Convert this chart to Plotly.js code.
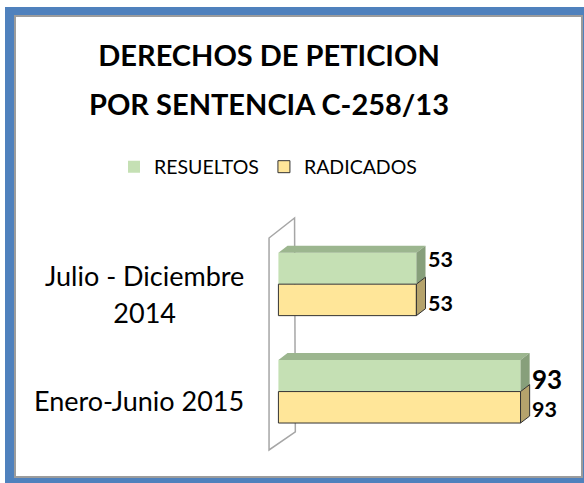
<!DOCTYPE html>
<html><head><meta charset="utf-8">
<script src="https://cdn.plot.ly/plotly-3.0.1.min.js"></script>
<style>
html,body{margin:0;padding:0;width:584px;height:483px;overflow:hidden;background:#fff;}
#frame{position:absolute;left:5px;top:7px;width:600px;height:500px;box-sizing:border-box;border-style:solid;border-color:#4f81bd;border-width:8px 9px 9px 9px;background:#4f81bd;}
#inner{position:absolute;left:0;top:0;width:569px;height:463px;box-sizing:border-box;border:2px solid #9c9c9c;background:#fff;}
#chart{position:absolute;left:0;top:0;width:584px;height:483px;}
</style></head><body>
<div id="frame"><div id="inner"></div></div>
<div id="chart"></div>
<script>
// ---- data ----
const categories = ['Julio - Diciembre<br>2014', 'Enero-Junio 2015'];
const seriesNames = ['RESUELTOS', 'RADICADOS'];
const resueltos = [53, 93];
const radicados = [53, 93];
const titleLines = ['DERECHOS DE PETICION', 'POR SENTENCIA C-258/13'];

// ---- style ----
const FONT = 'Lato, "Open Sans", sans-serif';
const greenFront = '#c5e0b4', greenTop = '#9cb68f', greenSide = '#879f7b';
const yellowFront = '#ffe699', yellowSide = '#b5a36c', edge = '#333333';
const bargap = 0.414;
const half = (1 - bargap) / 2;
const dx = 3.5, dy = 0.065;      // pseudo-3D depth in axis units
const idx = categories.map((_, i) => i);

function poly(fn, vals) {
  const xs = [], ys = [];
  vals.forEach((v, i) => {
    const pts = fn(v, idx[i]);
    pts.forEach(p => { xs.push(p[0]); ys.push(p[1]); });
    xs.push(pts[0][0]); ys.push(pts[0][1]);
    xs.push(null); ys.push(null);
  });
  return {xs, ys};
}
const gTop = poly((v, c) => [[0, c - half], [v, c - half], [v + dx, c - half - dy], [dx, c - half - dy]], resueltos);
const gSide = poly((v, c) => [[v, c - half], [v + dx, c - half - dy], [v + dx, c - dy], [v, c]], resueltos);
const ySide = poly((v, c) => [[v, c], [v + dx, c - dy], [v + dx, c + half - dy], [v, c + half]], radicados);

const data = [
  {type: 'bar', orientation: 'h', name: seriesNames[0], x: resueltos, y: idx,
   marker: {color: greenFront, line: {width: 0}}, hoverinfo: 'x'},
  {type: 'bar', orientation: 'h', name: seriesNames[1], x: radicados, y: idx,
   marker: {color: yellowFront, line: {color: edge, width: 1}}, hoverinfo: 'x'},
  {type: 'scatter', mode: 'lines', x: gTop.xs, y: gTop.ys, fill: 'toself', fillcolor: greenTop,
   line: {width: 0, color: greenTop}, showlegend: false, hoverinfo: 'skip'},
  {type: 'scatter', mode: 'lines', x: gSide.xs, y: gSide.ys, fill: 'toself', fillcolor: greenSide,
   line: {width: 0, color: greenSide}, showlegend: false, hoverinfo: 'skip'},
  {type: 'scatter', mode: 'lines', x: ySide.xs, y: ySide.ys, fill: 'toself', fillcolor: yellowSide,
   line: {width: 1, color: edge}, showlegend: false, hoverinfo: 'skip'}
];

// value labels
const labelSizes = [[21.5, 26], [21.5, 21.5]];
const labelYShift = [[9, -3.5], [-3, -2]];
const annotations = [];
[resueltos, radicados].forEach((vals, s) => {
  vals.forEach((v, i) => {
    annotations.push({x: v + dx, y: idx[i] + (s === 0 ? -half / 2 : half / 2), xref: 'x', yref: 'y',
      text: String(v), showarrow: false, xanchor: 'left', yanchor: 'middle', xshift: 0,
      yshift: labelYShift[s][i],
      font: {family: FONT, size: labelSizes[s][i], color: '#000', weight: 'bold'}});
  });
});
// category labels
const catShift = [-9.8, -9.4];
categories.forEach((c, i) => {
  annotations.push({x: -0.073, xref: 'paper', y: idx[i], yref: 'y', showarrow: false,
    xanchor: 'right', yanchor: 'middle', align: 'center', yshift: catShift[i],
    text: c.split('<br>').map(t => '<span style="font-size:27px">' + t + '</span>').join('<br>'),
    font: {family: FONT, size: 28.5, color: '#000'}});
});

const layout = {
  width: 584, height: 483,
  margin: {l: 268, r: 14, t: 209, b: 27, pad: 0},
  paper_bgcolor: 'rgba(0,0,0,0)', plot_bgcolor: 'rgba(0,0,0,0)',
  barmode: 'group', bargap: bargap, bargroupgap: 0,
  title: {text: titleLines.map(t => '<span style="font-size:29px">' + t + '</span>').join('<br>'),
    font: {family: FONT, size: 37.7, color: '#000', weight: 'bold'},
    x: 269 / 584, xanchor: 'center', xref: 'container',
    y: 1 - 66 / 483, yanchor: 'middle', yref: 'container'},
  showlegend: true,
  legend: {orientation: 'h', x: (114 - 268) / 302, xanchor: 'left', xref: 'paper',
    y: (456 - 167) / 247, yanchor: 'middle', yref: 'paper',
    font: {family: FONT, size: 19.5, color: '#000'}, bgcolor: 'rgba(0,0,0,0)'},
  xaxis: {range: [-4, 112], showgrid: false, zeroline: false, showticklabels: false, showline: false, fixedrange: true},
  yaxis: {range: [1.6, -0.7], showgrid: false, zeroline: false, showticklabels: false, showline: false, fixedrange: true},
  shapes: [{type: 'path', xref: 'x', yref: 'y', layer: 'below',
    path: 'M -3.6,-0.43 L 6.2,-0.616 L 6.5,1.376 L -3.6,1.544 Z',
    line: {color: '#a6a6a6', width: 1.5}, fillcolor: 'rgba(0,0,0,0)'}],
  annotations: annotations
};
Plotly.newPlot('chart', data, layout, {displayModeBar: false, staticPlot: true});
</script>
</body></html>
